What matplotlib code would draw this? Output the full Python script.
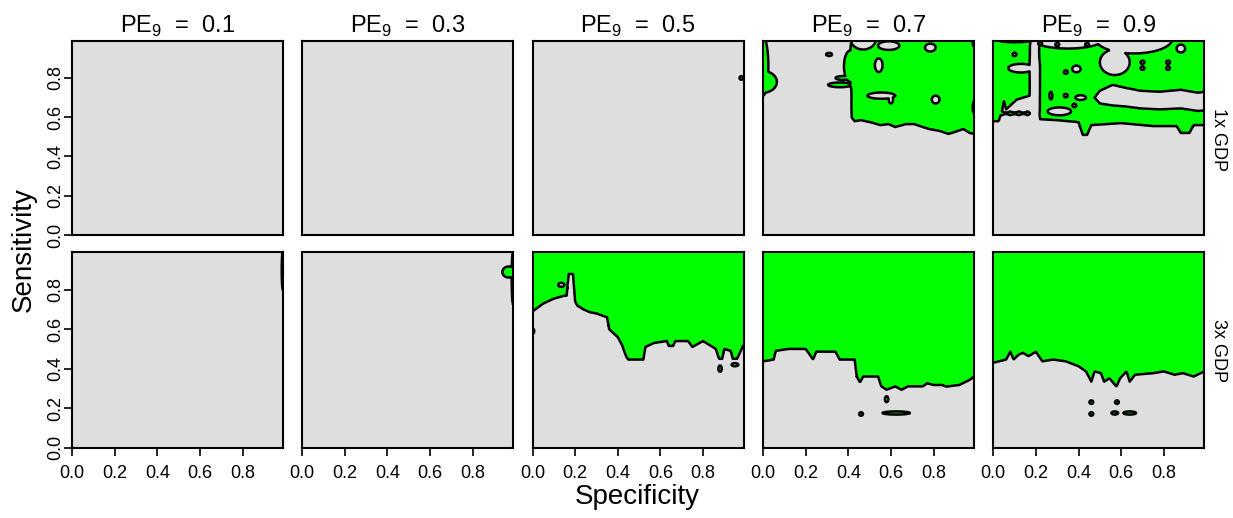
import numpy as np
import matplotlib
matplotlib.use("Agg")
import matplotlib.pyplot as plt

plt.rcParams['font.family'] = ['Liberation Sans', 'DejaVu Sans']

# fine grid of the contour surface (specificity x sensitivity)
spec = np.linspace(0.0, 0.99, 298)
sens = np.linspace(0.0, 0.99, 298)

pe_values = ['0.1', '0.3', '0.5', '0.7', '0.9']
row_labels = ['1x GDP', '3x GDP']

# each panel: lower green boundary (floor), gray holes and green islands
# holes / islands are ellipses (cx, cy, rx, ry)
NONE_X = [0.0, 0.99]
NONE_Y = [2.0, 2.0]
DOT = 0.009

# ---- 1x GDP ----
t07_floor_x = [0.0, 0.405, 0.415, 0.43, 0.46, 0.51, 0.55, 0.59, 0.62, 0.67, 0.71, 0.75, 0.78, 0.83, 0.87, 0.90, 0.94, 0.97, 0.99]
t07_floor_y = [1.5, 1.5, 0.60, 0.58, 0.585, 0.573, 0.56, 0.565, 0.55, 0.565, 0.565, 0.55, 0.54, 0.53, 0.515, 0.525, 0.54, 0.52, 0.515]
t07_holes = [(0.47, 1.0, 0.06, 0.055), (0.59, 0.965, 0.05, 0.022), (0.785, 0.955, 0.025, 0.02),
             (0.543, 0.865, 0.018, 0.035), (0.555, 0.71, 0.065, 0.016), (0.60, 0.69, 0.01, 0.02),
             (0.81, 0.69, 0.018, 0.02), (0.99, 0.98, 0.006, 0.02), (0.99, 0.65, 0.006, 0.03)]
t07_islands = [(0.0, 0.86, 0.025, 0.15), (0.0, 0.78, 0.065, 0.055), (0.41, 0.86, 0.03, 0.08),
               (0.36, 0.765, 0.055, 0.012), (0.375, 0.80, 0.035, 0.01), (0.31, 0.92, 0.014, 0.008)]

t09_floor_x = [0.0, 0.025, 0.04, 0.05, 0.06, 0.08, 0.11, 0.17, 0.18, 0.21, 0.22, 0.30, 0.40, 0.42, 0.44, 0.46, 0.60, 0.75, 0.86, 0.88, 0.92, 0.94, 0.99]
t09_floor_y = [0.58, 0.58, 0.63, 0.68, 0.64, 0.66, 0.69, 0.71, 1.5, 1.5, 0.59, 0.585, 0.575, 0.51, 0.51, 0.56, 0.57, 0.555, 0.555, 0.52, 0.52, 0.56, 0.56]
# gray band across the right half
t09_band_x = [0.475, 0.50, 0.56, 0.62, 0.69, 0.78, 0.88, 0.96, 0.99]
t09_band_lo = [0.70, 0.67, 0.66, 0.655, 0.645, 0.64, 0.645, 0.632, 0.635]
t09_band_hi = [0.70, 0.735, 0.765, 0.75, 0.735, 0.73, 0.74, 0.725, 0.73]
t09_holes = [(0.35, 1.0, 0.17, 0.05), (0.66, 1.0, 0.18, 0.075),
             (0.57, 0.88, 0.07, 0.065), (0.88, 0.95, 0.02, 0.02), (0.10, 0.99, 0.07, 0.008),
             (0.13, 0.85, 0.06, 0.022), (0.39, 0.846, 0.02, 0.017), (0.31, 0.63, 0.055, 0.02),
             (0.41, 0.70, 0.025, 0.012), (0.27, 0.71, 0.007, 0.02),
             (0.38, 0.66, DOT, DOT), (0.34, 0.83, DOT, DOT), (0.34, 0.71, DOT, DOT),
             (0.70, 0.88, DOT, DOT), (0.70, 0.85, DOT, DOT), (0.82, 0.88, DOT, DOT),
             (0.82, 0.85, DOT, DOT), (0.10, 0.92, DOT, DOT)]
t09_islands = [(0.095, 0.62, 0.07, 0.005), (0.04, 0.62, 0.012, 0.009), (0.08, 0.62, 0.012, 0.009),
               (0.12, 0.62, 0.012, 0.009), (0.16, 0.62, 0.01, 0.009),
               (0.22, 0.975, DOT, DOT), (0.30, 0.97, DOT, DOT), (0.44, 0.97, DOT, DOT)]

t05_islands = [(0.98, 0.80, DOT, DOT)]

# ---- 3x GDP ----
b01_islands = [(0.99, 0.90, 0.006, 0.105)]
b03_islands = [(0.99, 0.86, 0.006, 0.135), (0.97, 0.89, 0.03, 0.028)]

b05_floor_x = [0.0, 0.05, 0.10, 0.15, 0.16, 0.17, 0.19, 0.20, 0.21, 0.24, 0.27, 0.30, 0.35, 0.36, 0.40, 0.42, 0.44, 0.45, 0.52, 0.53, 0.57, 0.63, 0.64, 0.66, 0.67, 0.73, 0.75, 0.80, 0.86, 0.875, 0.89, 0.90, 0.93, 0.94, 0.96, 0.99]
b05_floor_y = [0.69, 0.73, 0.755, 0.77, 0.77, 0.88, 0.88, 0.74, 0.72, 0.70, 0.686, 0.68, 0.66, 0.60, 0.56, 0.52, 0.46, 0.446, 0.446, 0.51, 0.53, 0.54, 0.515, 0.515, 0.54, 0.54, 0.51, 0.54, 0.50, 0.45, 0.45, 0.50, 0.49, 0.45, 0.45, 0.52]
b05_holes = [(0.135, 0.825, 0.015, 0.01)]
b05_islands = [(0.88, 0.40, 0.008, 0.016), (0.95, 0.42, 0.016, 0.008), (0.0, 0.59, 0.008, 0.014)]

b07_floor_x = [0.0, 0.05, 0.06, 0.12, 0.20, 0.22, 0.235, 0.25, 0.34, 0.36, 0.43, 0.44, 0.455, 0.47, 0.54, 0.555, 0.58, 0.62, 0.65, 0.68, 0.75, 0.77, 0.80, 0.84, 0.86, 0.92, 0.97, 0.99]
b07_floor_y = [0.437, 0.446, 0.49, 0.50, 0.50, 0.47, 0.446, 0.486, 0.486, 0.446, 0.446, 0.36, 0.33, 0.36, 0.36, 0.31, 0.293, 0.31, 0.293, 0.31, 0.31, 0.326, 0.317, 0.317, 0.309, 0.317, 0.343, 0.36]
b07_islands = [(0.58, 0.245, 0.008, 0.015), (0.46, 0.17, DOT, DOT), (0.625, 0.175, 0.065, 0.008)]

b09_floor_x = [0.0, 0.06, 0.08, 0.095, 0.12, 0.14, 0.165, 0.20, 0.23, 0.28, 0.34, 0.40, 0.435, 0.46, 0.475, 0.505, 0.52, 0.545, 0.578, 0.595, 0.625, 0.64, 0.665, 0.75, 0.80, 0.85, 0.89, 0.94, 0.99]
b09_floor_y = [0.43, 0.446, 0.486, 0.446, 0.472, 0.48, 0.463, 0.486, 0.437, 0.446, 0.437, 0.412, 0.386, 0.334, 0.386, 0.377, 0.334, 0.351, 0.309, 0.351, 0.386, 0.334, 0.369, 0.377, 0.386, 0.369, 0.377, 0.36, 0.386]
b09_islands = [(0.46, 0.23, DOT, DOT), (0.58, 0.23, DOT, DOT), (0.46, 0.17, DOT, DOT),
               (0.57, 0.175, 0.016, 0.008), (0.64, 0.175, 0.03, 0.008)]

NO_BAND = None
t09_band = (t09_band_x, t09_band_lo, t09_band_hi)

panels = {
    (0, 0): (NONE_X, NONE_Y, NO_BAND, [], []),
    (0, 1): (NONE_X, NONE_Y, NO_BAND, [], []),
    (0, 2): (NONE_X, NONE_Y, NO_BAND, [], t05_islands),
    (0, 3): (t07_floor_x, t07_floor_y, NO_BAND, t07_holes, t07_islands),
    (0, 4): (t09_floor_x, t09_floor_y, t09_band, t09_holes, t09_islands),
    (1, 0): (NONE_X, NONE_Y, NO_BAND, [], b01_islands),
    (1, 1): (NONE_X, NONE_Y, NO_BAND, [], b03_islands),
    (1, 2): (b05_floor_x, b05_floor_y, NO_BAND, b05_holes, b05_islands),
    (1, 3): (b07_floor_x, b07_floor_y, NO_BAND, [], b07_islands),
    (1, 4): (b09_floor_x, b09_floor_y, NO_BAND, [], b09_islands),
}

X, Y = np.meshgrid(spec, sens)


def signed(e):
    # positive inside the ellipse, roughly in data units
    cx, cy, rx, ry = e
    d = np.sqrt(((X - cx) / rx) ** 2 + ((Y - cy) / ry) ** 2)
    return (1.0 - d) * min(rx, ry)


def build_field(fx, fy, band, holes, islands):
    f = Y - np.interp(X, fx, fy)
    if band is not None:
        bx, blo, bhi = band
        g = np.minimum(Y - np.interp(X, bx, blo), np.interp(X, bx, bhi) - Y)
        g = np.minimum(g, X - bx[0])
        f = np.minimum(f, -g)
    for h in holes:
        f = np.minimum(f, -signed(h))
    for s in islands:
        f = np.maximum(f, signed(s))
    return f


fig = plt.figure(figsize=(12.33, 5.18), dpi=100)
W, H = 1233.0, 518.0
lefts = [72, 302, 532.5, 763, 993.3]
rows = [(40.7, 235.0), (252.3, 447.5)]
gray = '#DEDEDE'
green = '#00FF00'

for (r, c), (fx, fy, band, holes, islands) in panels.items():
    top, bot = rows[r]
    ax = fig.add_axes([lefts[c] / W, 1 - bot / H, 211 / W, (bot - top) / H])
    ax.set_facecolor(gray)
    Z = build_field(fx, fy, band, holes, islands)
    if (Z > 0).any():
        ax.contourf(spec, sens, Z, levels=[-10, 0, 10], colors=[gray, green])
        ax.contour(spec, sens, Z, levels=[0], colors='black', linewidths=1.8)
    ax.set_xlim(0, 0.99)
    ax.set_ylim(0, 0.99)
    for sp in ax.spines.values():
        sp.set_linewidth(1.5)
    ax.tick_params(direction='out', length=5.5, width=1.2, labelsize=13, color='black')
    ax.tick_params(axis='x', pad=7)
    ax.tick_params(axis='y', pad=0)
    if r == 1:
        ax.set_xticks([0.0, 0.2, 0.4, 0.6, 0.8], ['0.0', '0.2', '0.4', '0.6', '0.8'])
    else:
        ax.set_xticks([])
        ax.set_title('PE$_{\\mathregular{9}}$  =  ' + pe_values[c], fontsize=17, pad=6)
    if c == 0:
        ax.set_yticks([0.0, 0.2, 0.4, 0.6, 0.8], ['0.0', '0.2', '0.4', '0.6', '0.8'],
                      rotation=90, va='center')
    else:
        ax.set_yticks([])

fig.text(0.019, 0.519, 'Sensitivity', rotation=90, fontsize=20, ha='center', va='center')
fig.text(0.517, 0.04, 'Specificity', fontsize=20, ha='center', va='center')
fig.text(0.9886, 0.73, row_labels[0], rotation=270, fontsize=13, ha='center', va='center')
fig.text(0.9886, 0.324, row_labels[1], rotation=270, fontsize=13, ha='center', va='center')

plt.savefig('out.png', dpi=100)
